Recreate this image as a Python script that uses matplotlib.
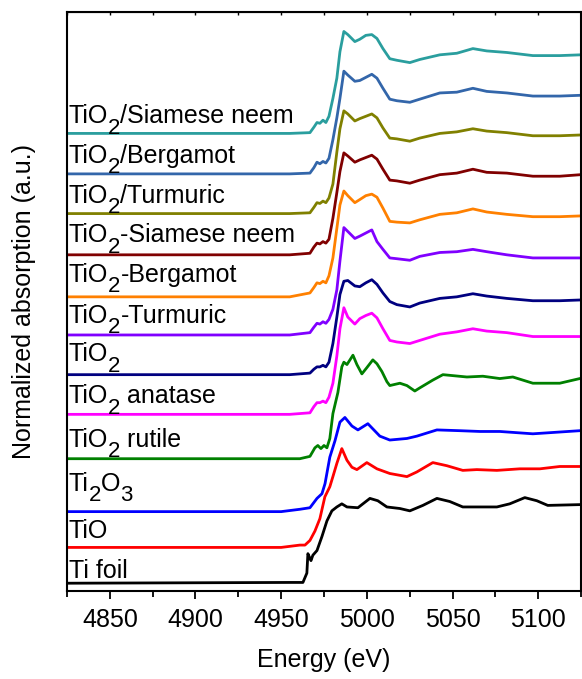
import numpy as np
import matplotlib
matplotlib.use('Agg')
import matplotlib.pyplot as plt
from matplotlib import transforms
from matplotlib.ticker import MultipleLocator, NullFormatter

plt.rcParams['font.family'] = 'Liberation Sans'

# common energy grid (eV) for the TiO2-type samples
e_tio2 = [4825, 4955, 4966.8, 4969.1, 4970.9, 4972.6, 4974.4, 4976.1, 4977.9, 4980.2,
          4982.5, 4984.3, 4986.6, 4988.9, 4993.0, 4995.9, 4999.4, 5002.9, 5005.9, 5009.4,
          5013.4, 5017.5, 5025.1, 5030.9, 5042.6, 5052.5, 5061.9, 5070.0, 5081.7, 5096.9,
          5112.6, 5124.9]

mu_sn_imp = [0, 0, 0.01, 0.08, 0.14, 0.13, 0.17, 0.14, 0.22, 0.45, 0.71, 1.05, 1.31, 1.27,
             1.18, 1.21, 1.26, 1.27, 1.22, 1.09, 0.96, 0.94, 0.91, 0.95, 1.01, 1.03, 1.09,
             1.06, 1.04, 1.00, 1.00, 1.01]
mu_berg_imp = [0, 0, 0.01, 0.08, 0.15, 0.13, 0.16, 0.14, 0.20, 0.44, 0.72, 0.97, 1.32, 1.27,
               1.19, 1.20, 1.24, 1.28, 1.23, 1.10, 0.96, 0.94, 0.92, 0.96, 1.04, 1.05, 1.10,
               1.06, 1.04, 1.00, 1.00, 1.01]
mu_turm_imp = [0, 0, 0.01, 0.08, 0.14, 0.13, 0.16, 0.14, 0.20, 0.38, 0.79, 1.09, 1.32, 1.28,
               1.19, 1.22, 1.25, 1.28, 1.23, 1.10, 0.97, 0.96, 0.93, 0.97, 1.03, 1.05, 1.09,
               1.06, 1.04, 1.00, 1.00, 1.01]
mu_sn_mix = [0, 0, 0.02, 0.10, 0.15, 0.14, 0.17, 0.15, 0.20, 0.47, 0.80, 1.07, 1.31, 1.27,
             1.19, 1.22, 1.25, 1.28, 1.23, 1.10, 0.96, 0.95, 0.92, 0.96, 1.03, 1.05, 1.10,
             1.06, 1.05, 1.01, 1.01, 1.03]
mu_berg_mix = [0, 0, 0.05, 0.12, 0.18, 0.17, 0.20, 0.18, 0.27, 0.50, 0.88, 1.18, 1.36, 1.30,
               1.21, 1.25, 1.30, 1.32, 1.28, 1.14, 0.97, 0.96, 0.95, 0.99, 1.06, 1.08, 1.13,
               1.09, 1.06, 1.03, 1.03, 1.04]
mu_turm_mix = [0, 0, 0.03, 0.10, 0.15, 0.14, 0.17, 0.15, 0.20, 0.33, 0.58, 0.95, 1.38, 1.33,
               1.24, 1.27, 1.31, 1.35, 1.20, 1.10, 0.99, 0.98, 0.96, 1.01, 1.06, 1.07, 1.10,
               1.07, 1.03, 0.99, 0.99, 0.99]
mu_tio2 = [0, 0, 0.02, 0.07, 0.10, 0.10, 0.12, 0.10, 0.16, 0.40, 0.74, 1.03, 1.20, 1.21,
           1.14, 1.13, 1.18, 1.22, 1.16, 1.05, 0.94, 0.90, 0.87, 0.92, 0.98, 1.00, 1.04,
           1.01, 0.98, 0.95, 0.95, 0.96]
mu_anatase = [0, 0, 0.02, 0.10, 0.15, 0.15, 0.17, 0.15, 0.22, 0.40, 0.75, 1.10, 1.37, 1.25,
              1.16, 1.23, 1.27, 1.30, 1.24, 1.10, 0.95, 0.93, 0.91, 0.95, 1.03, 1.06, 1.10,
              1.07, 1.05, 1.00, 1.00, 1.00]

e_rutile = [4825, 4955, 4960.9, 4966.8, 4969.7, 4971.4, 4973.2, 4975.0, 4976.7, 4978.4,
            4980.2, 4983.1, 4985.4, 4986.6, 4988.4, 4991.9, 4994.2, 4997.1, 5000.0, 5003.5,
            5005.9, 5008.8, 5011.7, 5013.4, 5019.3, 5023.4, 5028.0, 5030.9, 5038.5, 5044.4,
            5058.4, 5067.7, 5077.6, 5085.2, 5096.9, 5112.6, 5124.3]
mu_rutile = [0, 0, 0, 0.03, 0.14, 0.17, 0.13, 0.17, 0.14, 0.26, 0.58, 0.85, 1.18, 1.24,
             1.21, 1.33, 1.21, 1.09, 1.17, 1.27, 1.22, 1.12, 0.99, 0.94, 0.97, 0.94, 0.87,
             0.91, 1.01, 1.08, 1.05, 1.06, 1.03, 1.05, 0.97, 0.97, 1.03]

e_ti2o3 = [4825, 4950, 4960.9, 4966.8, 4970.9, 4973.8, 4975.6, 4978.4, 4981.4, 4984.3,
           4987.2, 4991.3, 4994.8, 5000.6, 5007.6, 5013.4, 5023.4, 5029.2, 5040.9, 5054.3,
           5066.0, 5077.6, 5096.9, 5124.3]
mu_ti2o3 = [0, 0, 0.03, 0.05, 0.17, 0.23, 0.36, 0.70, 0.91, 1.15, 1.21, 1.10, 1.05, 1.13,
            0.97, 0.92, 0.94, 0.97, 1.05, 1.04, 1.03, 1.03, 1.00, 1.04]

e_tio = [4825, 4950, 4960.9, 4963.9, 4966.8, 4969.7, 4972.6, 4975.5, 4978.4, 4980.2,
         4982.5, 4985.4, 4988.4, 4991.3, 4994.2, 5000.0, 5005.9, 5013.4, 5023.4, 5029.2,
         5038.5, 5046.7, 5056.0, 5064.2, 5075.9, 5089.3, 5101.0, 5112.6, 5124.3]
mu_tio = [0, 0, 0.03, 0.03, 0.09, 0.21, 0.37, 0.65, 0.78, 0.91, 1.08, 1.27, 1.12, 1.03,
          1.00, 1.09, 1.01, 0.95, 0.91, 0.97, 1.09, 1.05, 0.99, 1.00, 0.99, 1.01, 1.01,
          1.04, 1.04]

e_foil = [4825, 4955, 4962.7, 4965.0, 4965.6, 4966.8, 4967.4, 4968.5, 4970.9, 4973.8,
          4976.7, 4979.6, 4982.5, 4985.4, 4988.4, 4994.8, 4997.7, 5001.8, 5006.4, 5011.7,
          5019.3, 5025.1, 5032.7, 5040.9, 5048.4, 5056.0, 5064.2, 5075.9, 5083.4, 5092.2,
          5099.2, 5105.6, 5124.3]
mu_foil = [-0.01, 0, 0, 0.12, 0.37, 0.31, 0.28, 0.35, 0.41, 0.59, 0.79, 0.92, 0.97, 1.01,
           0.97, 0.96, 1.01, 1.08, 1.05, 0.97, 0.95, 0.92, 0.99, 1.08, 1.04, 0.97, 0.97,
           0.97, 1.01, 1.09, 1.05, 0.99, 1.00]

# bottom to top; labels split into (text, subscript?) pieces
labels = [[('Ti foil', 0)],
          [('TiO', 0)],
          [('Ti', 0), ('2', 1), ('O', 0), ('3', 1)],
          [('TiO', 0), ('2', 1), (' rutile', 0)],
          [('TiO', 0), ('2', 1), (' anatase', 0)],
          [('TiO', 0), ('2', 1)],
          [('TiO', 0), ('2', 1), ('-Turmuric', 0)],
          [('TiO', 0), ('2', 1), ('-Bergamot', 0)],
          [('TiO', 0), ('2', 1), ('-Siamese neem', 0)],
          [('TiO', 0), ('2', 1), ('/Turmuric', 0)],
          [('TiO', 0), ('2', 1), ('/Bergamot', 0)],
          [('TiO', 0), ('2', 1), ('/Siamese neem', 0)]]
energies = [e_foil, e_tio, e_ti2o3, e_rutile, e_tio2, e_tio2,
            e_tio2, e_tio2, e_tio2, e_tio2, e_tio2, e_tio2]
spectra = [mu_foil, mu_tio, mu_ti2o3, mu_rutile, mu_anatase, mu_tio2,
           mu_turm_mix, mu_berg_mix, mu_sn_mix, mu_turm_imp, mu_berg_imp, mu_sn_imp]
offsets = [0.11, 0.56, 1.02, 1.70, 2.27, 2.78, 3.29, 3.78, 4.32, 4.85, 5.36, 5.88]
label_y = [0.17, 0.68, 1.29, 1.85, 2.41, 2.95, 3.45, 3.97, 4.48, 4.99, 5.50, 6.01]
colors = ['black', '#FF0000', '#0000FF', '#008000', '#FF00FF', '#000080',
          '#8000FF', '#FF8000', '#800000', '#808000', '#3366AA', '#2A9E9E']

fig = plt.figure(figsize=(5.82, 6.79), dpi=100)
fig.patch.set_facecolor('white')
ax = fig.add_axes([0.1151, 0.1296, 0.8832, 0.8527])

for e, mu, off, c in zip(energies, spectra, offsets, colors):
    ax.plot(e, np.array(mu) + off, c=c, lw=2.0, solid_joinstyle='round')

ax.set_xlim(4825, 5125)
ax.set_ylim(0, 7.44)

# labels with large, strongly lowered subscripts (Origin style)
fs = 18
renderer = fig.canvas.get_renderer()
for pieces, y in zip(labels, label_y):
    dx = 0.0
    for s, sub in pieces:
        tr = transforms.offset_copy(ax.transData, fig=fig, x=dx,
                                    y=-7.5 if sub else 0, units='points')
        t = ax.text(4826, y, s, fontsize=16 if sub else fs, va='baseline',
                    ha='left', transform=tr)
        w = t.get_window_extent(renderer).width
        dx += w * 72.0 / fig.dpi

ax.xaxis.set_major_locator(MultipleLocator(50))
ax.xaxis.set_minor_locator(MultipleLocator(25))
ax.set_yticks([])
ax.tick_params(axis='x', which='major', direction='out', length=6, width=1.3,
               labelsize=fs, pad=6)
ax.tick_params(axis='x', which='minor', direction='out', length=4, width=1.3)
for sp in ax.spines.values():
    sp.set_linewidth(1.5)

# tiny inward ticks on the top edge
top = ax.secondary_xaxis('top')
top.xaxis.set_major_locator(MultipleLocator(25))
top.xaxis.set_major_formatter(NullFormatter())
top.tick_params(direction='in', length=2, width=1.0)

ax.set_xlabel('Energy (eV)', fontsize=fs, labelpad=12)
ax.set_ylabel('Normalized absorption (a.u.)', fontsize=fs, labelpad=22)

fig.savefig('out.png', dpi=100)
